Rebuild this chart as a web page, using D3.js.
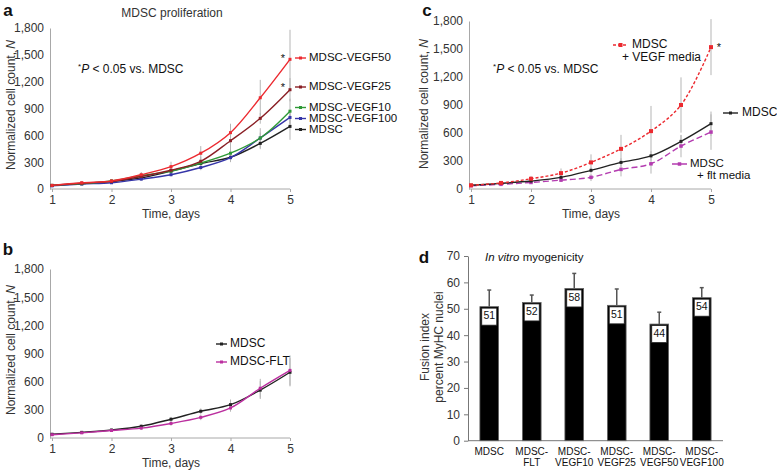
<!DOCTYPE html>
<html><head><meta charset="utf-8">
<script src="https://cdn.jsdelivr.net/npm/d3@7"></script>
<style>
body{margin:0;background:#fff;}
svg{display:block;font-family:"Liberation Sans",Arial,Helvetica,sans-serif;}
</style></head>
<body><svg id="c" width="777" height="473"></svg>
<script>
// ---------- DATA ----------
const days = [1, 1.5, 2, 2.5, 3, 3.5, 4, 4.5, 5];
const xTicks = [1, 2, 3, 4, 5];
const yTicks = [0, 300, 600, 900, 1200, 1500, 1800];

// panel a
const aVEGF50  = [40, 70, 90, 160, 250, 400, 630, 1020, 1450];
const aVEGF50e = [5, 10, 20, 30, 55, 80, 100, 200, 330];
const aVEGF25  = [40, 65, 85, 140, 210, 310, 540, 790, 1110];
const aVEGF25e = [5, 10, 15, 25, 40, 50, 70, 60, 130];
const aVEGF10  = [40, 60, 90, 150, 200, 290, 400, 570, 870];
const aVEGF10e = [5, 10, 15, 20, 30, 40, 100, 110, 140];
const aVEGF100 = [35, 55, 70, 110, 160, 240, 350, 570, 800];
const aVEGF100e= [5, 5, 10, 15, 20, 30, 40, 60, 80];
const aMDSC    = [40, 60, 85, 125, 200, 285, 355, 510, 700];
const aMDSCe   = [5, 10, 15, 20, 30, 40, 50, 65, 150];

// panel b
const bMDSC  = [40, 60, 85, 125, 200, 285, 355, 510, 700];
const bMDSCe = [5, 10, 15, 20, 25, 30, 55, 95, 150];
const bFLT   = [35, 55, 80, 105, 155, 220, 320, 530, 720];
const bFLTe  = [5, 10, 15, 20, 25, 30, 40, 100, 160];

// panel c
const cVEGF  = [40, 65, 110, 170, 285, 430, 620, 900, 1520];
const cVEGFe = [5, 15, 30, 50, 86, 150, 270, 296, 300];
const cMDSC  = [40, 60, 85, 125, 200, 285, 355, 510, 700];
const cMDSCe = [5, 10, 15, 20, 30, 45, 50, 65, 130];
const cFLT   = [35, 50, 70, 95, 125, 210, 270, 460, 610];
const cFLTe  = [5, 10, 15, 20, 40, 75, 105, 120, 190];

// panel d
const dCategories = [["MDSC"], ["MDSC-", "FLT"], ["MDSC-", "VEGF10"], ["MDSC-", "VEGF25"], ["MDSC-", "VEGF50"], ["MDSC-", "VEGF100"]];
const dValues = [50.8, 52.4, 57.7, 51.3, 44.2, 54.2];
const dErrors = [6.3, 2.8, 5.7, 6.2, 4.5, 3.8];
const dLabels = ["51", "52", "58", "51", "44", "54"];
const dTicks = [0, 10, 20, 30, 40, 50, 60, 70];

// ---------- DRAW ----------
const svg = d3.select("#c");
const AX = "#a8a8a8", TXT = "#333";

function letter(t, x, y) {
  svg.append("text").attr("x", x).attr("y", y).attr("text-anchor", "middle")
    .attr("dominant-baseline", "middle").attr("font-size", 17).attr("font-weight", "bold")
    .attr("fill", "#111").text(t);
}
function ylabel(x, y) {
  const t = svg.append("text").attr("transform", `translate(${x},${y}) rotate(-90)`)
    .attr("text-anchor", "middle").attr("dominant-baseline", "middle")
    .attr("font-size", 12).attr("fill", TXT);
  t.append("tspan").text("Normalized cell count, ");
  t.append("tspan").attr("font-style", "italic").text("N");
}
function pnote(x, y) {
  const t = svg.append("text").attr("x", x).attr("y", y).attr("dominant-baseline", "middle")
    .attr("font-size", 12).attr("fill", "#111");
  t.append("tspan").attr("font-size", 8).attr("dy", -3).text("*");
  t.append("tspan").attr("font-style", "italic").attr("dy", 3).text("P");
  t.append("tspan").text(" < 0.05 vs. MDSC");
}

function linePanel(cfg) {
  const x = d3.scaleLinear().domain([1, 5]).range(cfg.xr);
  const y = d3.scaleLinear().domain([0, 1800]).range(cfg.yr);
  const g = svg.append("g");
  const xa = g.append("g").attr("transform", `translate(0,${cfg.yr[0]})`)
    .call(d3.axisBottom(x).tickValues(xTicks).tickFormat(d3.format("d")).tickSize(3).tickSizeOuter(0).tickPadding(3));
  xa.select(".domain").attr("stroke", AX).attr("d", `M${cfg.xr[0] - 2},0H${cfg.xr[1]}`);
  xa.selectAll(".tick line").attr("stroke", AX);
  xa.selectAll("text").attr("font-size", 12).attr("fill", TXT).attr("font-family", null);
  const ya = g.append("g").attr("transform", `translate(${cfg.xr[0] - 2},0)`)
    .call(d3.axisLeft(y).tickValues(yTicks).tickFormat(d3.format(",")).tickSize(0).tickPadding(6));
  ya.select(".domain").attr("stroke", AX);
  ya.selectAll("text").attr("font-size", 12).attr("fill", TXT).attr("font-family", null);
  g.append("text").attr("x", (cfg.xr[0] + cfg.xr[1]) / 2).attr("y", cfg.yr[0] + 26)
    .attr("text-anchor", "middle").attr("dominant-baseline", "middle").attr("font-size", 12)
    .attr("fill", TXT).text("Time, days");
  cfg.series.forEach(s => {
    g.append("g").selectAll("line").data(days.map((d, i) => [d, s.v[i], s.e[i]])).join("line")
      .attr("x1", d => x(d[0])).attr("x2", d => x(d[0]))
      .attr("y1", d => y(d[1] + d[2])).attr("y2", d => y(Math.max(0, d[1] - d[2])))
      .attr("stroke", "#b5b5b5").attr("stroke-width", 1);
  });
  const line = d3.line().x((d, i) => x(days[i])).y(d => y(d)).curve(d3.curveCatmullRom.alpha(0.5));
  cfg.series.forEach(s => {
    g.append("path").datum(s.v).attr("d", line).attr("fill", "none").attr("stroke", s.c)
      .attr("stroke-width", s.w || 1.4).attr("stroke-dasharray", s.dash || null);
    g.append("g").selectAll("rect").data(s.v).join("rect")
      .attr("x", (d, i) => x(days[i]) - (s.m || 3) / 2).attr("y", d => y(d) - (s.m || 3) / 2)
      .attr("width", s.m || 3).attr("height", s.m || 3).attr("fill", s.c);
  });
  return {x, y};
}

function legendItem(x0, x1, y, color, dash, m) {
  svg.append("line").attr("x1", x0).attr("x2", x1).attr("y1", y).attr("y2", y)
    .attr("stroke", color).attr("stroke-width", 1.4).attr("stroke-dasharray", dash || null);
  svg.append("rect").attr("x", (x0 + x1) / 2 - m / 2).attr("y", y - m / 2).attr("width", m).attr("height", m).attr("fill", color);
}
function legText(x, y, t, color, fs) {
  svg.append("text").attr("x", x).attr("y", y).attr("dominant-baseline", "middle")
    .attr("font-size", fs || 12).attr("fill", color || "#111").text(t);
}

// ----- panel a -----
letter("a", 8, 12);
svg.append("text").attr("x", 172).attr("y", 14).attr("text-anchor", "middle")
  .attr("dominant-baseline", "middle").attr("font-size", 12).attr("fill", TXT).text("MDSC proliferation");
ylabel(12, 105);
const colA = {v50: "#ec2a30", v25: "#8a1f25", v10: "#2f9a37", v100: "#3535a8", m: "#222"};
linePanel({xr: [52, 290], yr: [189, 28], series: [
  {v: aMDSC, e: aMDSCe, c: colA.m},
  {v: aVEGF100, e: aVEGF100e, c: colA.v100},
  {v: aVEGF10, e: aVEGF10e, c: colA.v10},
  {v: aVEGF25, e: aVEGF25e, c: colA.v25},
  {v: aVEGF50, e: aVEGF50e, c: colA.v50}
]});
pnote(78, 70);
[["MDSC-VEGF50", 58, colA.v50], ["MDSC-VEGF25", 87, colA.v25], ["MDSC-VEGF10", 107.5, colA.v10],
 ["MDSC-VEGF100", 118.5, colA.v100], ["MDSC", 129.5, colA.m]].forEach(d => {
  legendItem(295, 306, d[1], d[2], null, 3);
  legText(309, d[1], d[0], "#111", 11.5);
});
svg.append("text").attr("x", 283).attr("y", 62).attr("text-anchor", "middle").attr("font-size", 11).attr("fill", "#111").text("*");
svg.append("text").attr("x", 283).attr("y", 91).attr("text-anchor", "middle").attr("font-size", 11).attr("fill", "#111").text("*");

// ----- panel b -----
letter("b", 8, 251);
ylabel(12, 350);
linePanel({xr: [52, 290], yr: [438, 269], series: [
  {v: bMDSC, e: bMDSCe, c: "#222"},
  {v: bFLT, e: bFLTe, c: "#bb2f9f"}
]});
legendItem(216, 227, 344, "#222", null, 3);
legText(230, 344, "MDSC");
legendItem(216, 227, 362, "#bb2f9f", null, 3);
legText(230, 362, "MDSC-FLT");

// ----- panel c -----
letter("c", 427, 12);
ylabel(425, 104);
linePanel({xr: [471, 711], yr: [189, 21], series: [
  {v: cFLT, e: cFLTe, c: "#b43cb0", dash: "6,3", m: 3.5},
  {v: cMDSC, e: cMDSCe, c: "#222", m: 3},
  {v: cVEGF, e: cVEGFe, c: "#ec2a30", dash: "3,2", m: 4}
]});
pnote(493, 70);
legendItem(613, 628, 45, "#ec2a30", "3,2", 4);
legText(632, 45, "MDSC");
legText(622, 58, "+ VEGF media");
svg.append("text").attr("x", 719).attr("y", 51).attr("text-anchor", "middle").attr("font-size", 11).attr("fill", "#111").text("*");
legendItem(723, 738, 113, "#222", null, 3);
legText(742, 113, "MDSC");
legendItem(672, 687, 164, "#b43cb0", "6,3", 3.5);
legText(690, 164, "MDSC", "#111", 11.5);
legText(697, 176, "+ flt media", "#111", 11.5);

// ----- panel d -----
letter("d", 424, 259);
{
  const x = d3.scaleBand().domain(d3.range(dValues.length)).range([468, 723]).paddingInner(0.56).paddingOuter(0.28);
  const y = d3.scaleLinear().domain([0, 70]).range([440.7, 256]);
  const g = svg.append("g");
  const ya = g.append("g").attr("transform", "translate(468,0)")
    .call(d3.axisLeft(y).tickValues(dTicks).tickSize(4).tickSizeOuter(0).tickPadding(4));
  ya.select(".domain").attr("stroke", "#777");
  ya.selectAll(".tick line").attr("stroke", "#777");
  ya.selectAll("text").attr("font-size", 12).attr("fill", TXT).attr("font-family", null);
  g.append("line").attr("x1", 468).attr("x2", 723).attr("y1", y(0)).attr("y2", y(0)).attr("stroke", "#777");
  g.selectAll(".eb").data(dValues).join("line")
    .attr("x1", (d, i) => x(i) + x.bandwidth() / 2).attr("x2", (d, i) => x(i) + x.bandwidth() / 2)
    .attr("y1", d => y(d)).attr("y2", (d, i) => y(d + dErrors[i])).attr("stroke", "#555").attr("stroke-width", 1.5);
  g.selectAll(".cap").data(dValues).join("line")
    .attr("x1", (d, i) => x(i) + x.bandwidth() / 2 - 2).attr("x2", (d, i) => x(i) + x.bandwidth() / 2 + 2)
    .attr("y1", (d, i) => y(d + dErrors[i])).attr("y2", (d, i) => y(d + dErrors[i])).attr("stroke", "#555").attr("stroke-width", 1.5);
  g.selectAll(".bar").data(dValues).join("rect")
    .attr("x", (d, i) => x(i)).attr("width", x.bandwidth())
    .attr("y", d => y(d)).attr("height", d => y(0) - y(d))
    .attr("fill", "#000").attr("stroke", "#666").attr("stroke-width", 0.8);
  const bw = 15, bh = 17;
  g.selectAll(".lb").data(dValues).join("rect")
    .attr("x", (d, i) => x(i) + x.bandwidth() / 2 - bw / 2).attr("y", d => y(d) + 1.5)
    .attr("width", bw).attr("height", bh).attr("fill", "#fff").attr("stroke", "#222").attr("stroke-width", 0.8);
  g.selectAll(".lt").data(dValues).join("text")
    .attr("x", (d, i) => x(i) + x.bandwidth() / 2).attr("y", d => y(d) + 1.5 + bh / 2)
    .attr("text-anchor", "middle").attr("dominant-baseline", "middle").attr("font-size", 10.5).attr("fill", "#111")
    .text((d, i) => dLabels[i]);
  dCategories.forEach((lines, i) => {
    const t = g.append("text").attr("x", x(i) + x.bandwidth() / 2).attr("y", 455)
      .attr("text-anchor", "middle").attr("font-size", 10).attr("fill", "#111");
    lines.forEach((l, j) => t.append("tspan").attr("x", x(i) + x.bandwidth() / 2).attr("dy", j ? 11 : 0).text(l));
  });
  const tt = g.append("text").attr("x", 485).attr("y", 258).attr("dominant-baseline", "middle")
    .attr("font-size", 11.5).attr("fill", "#111");
  tt.append("tspan").attr("font-style", "italic").text("In vitro");
  tt.append("tspan").text(" myogenicity");
  const yl = g.append("text").attr("transform", "translate(432,347) rotate(-90)").attr("text-anchor", "middle")
    .attr("font-size", 12).attr("fill", TXT);
  yl.append("tspan").attr("x", 0).attr("dy", -3).text("Fusion index");
  yl.append("tspan").attr("x", 0).attr("dy", 14).text("percent MyHC nuclei");
}
</script></body></html>
